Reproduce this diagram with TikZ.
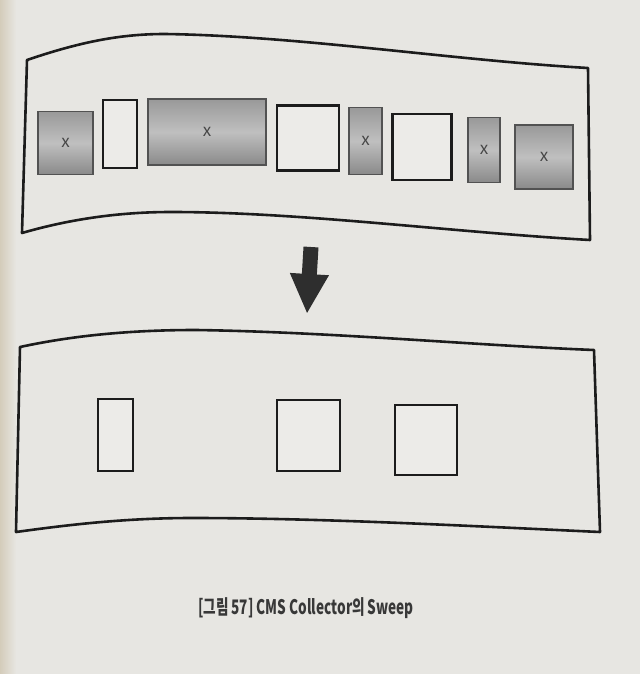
\documentclass[tikz,border=0pt]{standalone}
\usepackage{fontspec}
\usepackage{tikz}
\usetikzlibrary{arrows.meta, positioning}
\newfontfamily\krfont{Noto Sans CJK KR}
\definecolor{paper}{HTML}{E7E6E2}
\definecolor{gutter}{HTML}{D4CCBA}
\definecolor{ink}{HTML}{1C1C1C}
\definecolor{livefill}{HTML}{ECEBE8}

\begin{document}
\begin{tikzpicture}[
    x=1pt, y=-1pt,
    font=\krfont,
    panel/.style={draw=ink, line width=2.6pt, line join=round},
    live/.style={draw=ink, fill=livefill, line width=2.6pt, inner sep=0pt},
    dead/.style={draw=black!68, line width=1.6pt, inner sep=0pt, top color=black!40, bottom color=black!46, middle color=black!25, text=black!72, font=\krfont\fontsize{17}{17}\selectfont},
    ar/.style={draw=black!82, line width=15pt, -{Triangle[width=36pt, length=40pt]}}
  ]
    \fill[paper] (0,0) rectangle (640,674);
    \shade[left color=gutter, right color=paper] (0,0) rectangle (16,674);
    \useasboundingbox (0,0) rectangle (640,674);

    \draw[panel] (27,60) .. controls (80,42) and (120,34) .. (165,34)
      .. controls (300,36) and (450,60) .. (588,68) -- (590,240)
      .. controls (450,232) and (300,212) .. (171,212)
      .. controls (110,212) and (60,222) .. (22,233) -- cycle;

    \node[dead, minimum width=55pt, minimum height=63pt] (b1) at (65.5,143) {x};
    \node[live, minimum width=34pt, minimum height=68pt] (b2) at (120,134) {};
    \node[dead, minimum width=118pt, minimum height=66pt] (b3) at (207,132) {x};
    \node[live, minimum width=62pt, minimum height=65pt] (b4) at (308,138) {};
    \node[dead, minimum width=33pt, minimum height=67pt] (b5) at (365.5,141) {x};
    \node[live, minimum width=59pt, minimum height=66pt] (b6) at (422,147) {};
    \node[dead, minimum width=32pt, minimum height=65pt] (b7) at (484,150) {x};
    \node[dead, minimum width=58pt, minimum height=64pt] (b8) at (544,157) {x};

    \coordinate (from) at (311,247);
    \coordinate (to) at (307,314);
    \draw[ar] (from) -- (to);

    \draw[panel] (20,347) .. controls (80,334) and (140,330) .. (196,330)
      .. controls (330,332) and (470,345) .. (594,350) -- (600,532)
      .. controls (470,526) and (320,518) .. (192,518)
      .. controls (120,518) and (60,526) .. (16,532) -- cycle;

    \node[live, minimum width=35pt, minimum height=72pt] (a1) at (115.5,435) {};
    \node[live, minimum width=63pt, minimum height=71pt] (a2) at (308.5,435.5) {};
    \node[live, minimum width=62pt, minimum height=70pt] (a3) at (426,440) {};

    \node[font=\krfont\bfseries\fontsize{20}{24}\selectfont, text=black!78, xscale=0.68, transform shape] (cap) at (306,608) {[그림 57] CMS Collector의 Sweep};
  \end{tikzpicture}
\end{document}
